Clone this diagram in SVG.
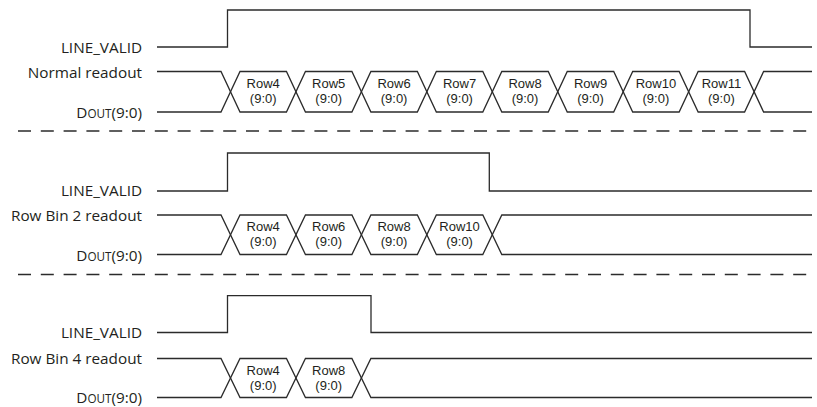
<svg xmlns="http://www.w3.org/2000/svg" width="817" height="407" viewBox="0 0 817 407">
<style>
.w{fill:none;stroke:#2b2b2b;stroke-width:1.3;stroke-linejoin:miter}
.d{fill:none;stroke:#2b2b2b;stroke-width:1.3;stroke-dasharray:13 9.8}
.l{font-family:"Open Sans","Noto Sans",sans-serif;font-size:15.3px;fill:#231f20;text-anchor:end}
.c{font-family:"Liberation Sans","Open Sans",sans-serif;font-size:13px;fill:#231f20;text-anchor:middle}
.sc{font-size:11.7px}
</style>
<rect width="817" height="407" fill="#fff"/>
<g id="section1">
<text class="l" x="142" y="52.5">LINE_VALID</text>
<text class="l" x="142" y="77.5">Normal readout</text>
<text class="l" x="142" y="117.5">D<tspan class="sc">OUT</tspan>(9:0)</text>
<path class="w" d="M157,47H227.5V10H750V47H812"/>
<path class="w" d="M157,71.5H221L240,112H286.45L305.45,71.5H351.9L370.9,112H417.35L436.35,71.5H482.8L501.8,112H548.25L567.25,71.5H613.7L632.7,112H679.15L698.15,71.5H744.6L763.6,112H812"/>
<path class="w" d="M157,112H221L240,71.5H286.45L305.45,112H351.9L370.9,71.5H417.35L436.35,112H482.8L501.8,71.5H548.25L567.25,112H613.7L632.7,71.5H679.15L698.15,112H744.6L763.6,71.5H812"/>
<g class="c">
<text x="263.2" y="87.5">Row4</text><text x="263.2" y="102.5">(9:0)</text>
<text x="328.7" y="87.5">Row5</text><text x="328.7" y="102.5">(9:0)</text>
<text x="394.1" y="87.5">Row6</text><text x="394.1" y="102.5">(9:0)</text>
<text x="459.6" y="87.5">Row7</text><text x="459.6" y="102.5">(9:0)</text>
<text x="525" y="87.5">Row8</text><text x="525" y="102.5">(9:0)</text>
<text x="590.5" y="87.5">Row9</text><text x="590.5" y="102.5">(9:0)</text>
<text x="655.9" y="87.5">Row10</text><text x="655.9" y="102.5">(9:0)</text>
<text x="721.4" y="87.5">Row11</text><text x="721.4" y="102.5">(9:0)</text>
</g>
</g>
<path class="d" d="M18,131H812"/>
<g id="section2">
<text class="l" x="142" y="196">LINE_VALID</text>
<text class="l" x="142" y="221">Row Bin 2 readout</text>
<text class="l" x="142" y="260.5">D<tspan class="sc">OUT</tspan>(9:0)</text>
<path class="w" d="M157,191H227.5V153H489.3V191H812"/>
<path class="w" d="M157,215H221L240,254.5H286.45L305.45,215H351.9L370.9,254.5H417.35L436.35,215H482.8L501.8,254.5H812"/>
<path class="w" d="M157,254.5H221L240,215H286.45L305.45,254.5H351.9L370.9,215H417.35L436.35,254.5H482.8L501.8,215H812"/>
<g class="c">
<text x="263.2" y="231">Row4</text><text x="263.2" y="246">(9:0)</text>
<text x="328.7" y="231">Row6</text><text x="328.7" y="246">(9:0)</text>
<text x="394.1" y="231">Row8</text><text x="394.1" y="246">(9:0)</text>
<text x="459.6" y="231">Row10</text><text x="459.6" y="246">(9:0)</text>
</g>
</g>
<path class="d" d="M18,274.5H812"/>
<g id="section3">
<text class="l" x="142" y="338">LINE_VALID</text>
<text class="l" x="142" y="364">Row Bin 4 readout</text>
<text class="l" x="142" y="403">D<tspan class="sc">OUT</tspan>(9:0)</text>
<path class="w" d="M157,332.5H227.5V295.7H371V332.5H812"/>
<path class="w" d="M157,358.5H221L240,397.5H286.45L305.45,358.5H351.9L370.9,397.5H812"/>
<path class="w" d="M157,397.5H221L240,358.5H286.45L305.45,397.5H351.9L370.9,358.5H812"/>
<g class="c">
<text x="263.2" y="374.5">Row4</text><text x="263.2" y="389.5">(9:0)</text>
<text x="328.7" y="374.5">Row8</text><text x="328.7" y="389.5">(9:0)</text>
</g>
</g>
</svg>
